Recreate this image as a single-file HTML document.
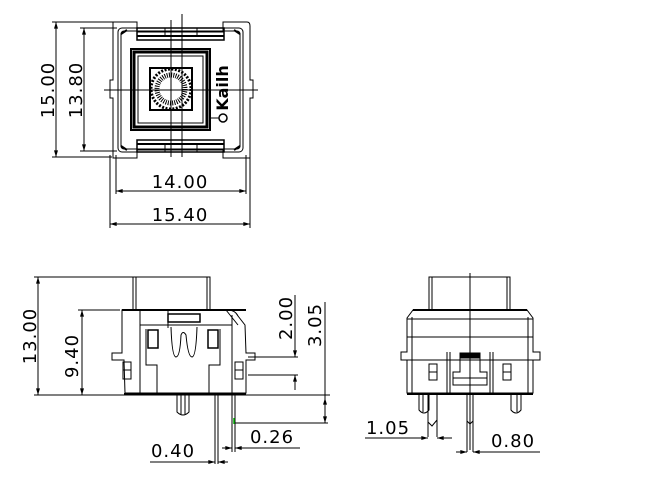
<!DOCTYPE html>
<html><head><style>
html,body{margin:0;padding:0;background:#fff;width:670px;height:485px;overflow:hidden}
svg text{font-family:"DejaVu Sans","Liberation Sans",sans-serif;font-size:18px;fill:#000;stroke:none;letter-spacing:1px}
</style></head><body>
<svg width="670" height="485" viewBox="0 0 670 485" xmlns="http://www.w3.org/2000/svg" fill="none" stroke="#000" stroke-width="1">
<defs>
<marker id="a" viewBox="0 0 10 6" refX="10" refY="3" markerWidth="7" markerHeight="4" orient="auto-start-reverse" markerUnits="userSpaceOnUse"><path d="M0 0 L10 3 L0 6 Z" fill="#000" stroke="none"/></marker>
</defs>
<!-- ================= TOP VIEW ================= -->
<line x1="52" y1="22" x2="137" y2="22"/>
<line x1="52" y1="157" x2="112" y2="157"/>
<line x1="56" y1="22" x2="56" y2="157" marker-start="url(#a)" marker-end="url(#a)"/>
<line x1="80" y1="28" x2="117" y2="28"/>
<line x1="80" y1="151" x2="117" y2="151"/>
<line x1="84" y1="28" x2="84" y2="151" marker-start="url(#a)" marker-end="url(#a)"/>
<text transform="translate(54,90) rotate(-90)" text-anchor="middle">15.00</text>
<text transform="translate(82,90) rotate(-90)" text-anchor="middle">13.80</text>
<line x1="110" y1="155" x2="110" y2="228"/>
<line x1="250" y1="155" x2="250" y2="228"/>
<line x1="116" y1="155" x2="116" y2="194"/>
<line x1="246" y1="155" x2="246" y2="194"/>
<line x1="116" y1="191" x2="246" y2="191" marker-start="url(#a)" marker-end="url(#a)"/>
<line x1="110" y1="224" x2="250" y2="224" marker-start="url(#a)" marker-end="url(#a)"/>
<text x="180" y="188" text-anchor="middle">14.00</text>
<text x="180" y="221" text-anchor="middle">15.40</text>
<!-- frame -->
<path d="M113 22 L137 22 L137 32 L223 32 L223 22 L247 22 Q250 22 250 26 L250 80 L253 80 L253 98 L250 98 L250 158 L223 158 L223 150 L137 150 L137 158 L113 158 L113 98 L110 98 L110 80 L113 80 Z"/>
<rect x="118" y="28" width="125" height="124" rx="4"/>
<rect x="121" y="31" width="119" height="118" rx="3"/>
<rect x="137" y="28" width="87" height="12" stroke-width="1.5"/>
<line x1="137" y1="36" x2="224" y2="36" stroke-width="2"/>
<rect x="137" y="140" width="87" height="12" stroke-width="1.5"/>
<line x1="137" y1="144" x2="224" y2="144" stroke-width="2"/>
<rect x="165" y="28" width="32" height="8"/>
<rect x="165" y="144" width="32" height="8"/>
<path d="M121 34 L127 30 M240 34 L234 30 M121 146 L127 150 M240 146 L234 150" stroke-width="2"/>
<rect x="131" y="49" width="79" height="81" stroke-width="2"/>
<rect x="134" y="52" width="73" height="75" stroke-width="3"/>
<rect x="138" y="56" width="65" height="67"/>
<rect x="150" y="68" width="42" height="42" stroke-width="2"/>
<circle cx="171" cy="89" r="20" stroke-width="3" stroke-dasharray="2 1.5"/>
<circle cx="171" cy="89" r="14" stroke-width="5" stroke-dasharray="1 1.2"/>
<text transform="translate(228,88) rotate(-90)" text-anchor="middle" style="font-size:16px;font-weight:bold;letter-spacing:0">Kailh</text>
<circle cx="223" cy="118" r="4" stroke-width="1.5"/>
<line x1="210" y1="118" x2="219" y2="118"/>
<line x1="171" y1="20" x2="171" y2="157"/>
<line x1="182" y1="14" x2="182" y2="157"/>
<line x1="104" y1="90" x2="258" y2="90"/>
<!-- ================= SIDE VIEW ================= -->
<line x1="34" y1="277" x2="210" y2="277"/>
<line x1="38" y1="277" x2="38" y2="395" marker-start="url(#a)" marker-end="url(#a)"/>
<text transform="translate(36,336) rotate(-90)" text-anchor="middle">13.00</text>
<line x1="78" y1="310" x2="120" y2="310"/>
<line x1="82" y1="310" x2="82" y2="395" marker-start="url(#a)" marker-end="url(#a)"/>
<text transform="translate(78,356) rotate(-90)" text-anchor="middle">9.40</text>
<line x1="34" y1="395" x2="330" y2="395"/>
<!-- cap -->
<rect x="133" y="277" width="77" height="33"/>
<line x1="136" y1="277" x2="136" y2="310"/>
<line x1="207" y1="277" x2="207" y2="310"/>
<!-- body -->
<path d="M122 310 L228 310 Q235 310 238 316 L245 325 L246 353 L255 353 L255 360 L246 360 L246 393 L125 393 L124 360 L112 360 L112 353 L122 353 Z"/>
<line x1="122" y1="310" x2="246" y2="310" stroke-width="2"/>
<line x1="124" y1="394" x2="246" y2="394" stroke-width="2"/>
<line x1="140" y1="310" x2="140" y2="393"/>
<line x1="232" y1="315" x2="232" y2="393"/>
<line x1="226" y1="310" x2="238" y2="325"/>
<line x1="140" y1="325" x2="232" y2="325"/>
<line x1="168" y1="310" x2="168" y2="328"/>
<rect x="168" y="314" width="32" height="8" stroke-width="1.5"/>
<rect x="148" y="330" width="10" height="18" stroke-width="1.5"/>
<rect x="208" y="330" width="10" height="18" stroke-width="1.5"/>
<path d="M146 329 L146 365 L157 365 L157 393 M220 329 L220 365 L209 365 L209 393"/>
<path d="M171 327 Q172 357 176 357 Q180 357 181 335 Q183 330 186 335 Q188 357 192 357 Q196 357 197 327"/>
<rect x="123" y="362" width="8" height="17"/>
<rect x="235" y="362" width="8" height="17"/>
<line x1="123" y1="370" x2="131" y2="370"/>
<line x1="235" y1="370" x2="243" y2="370"/>
<!-- stem & leads -->
<path d="M177 395 L177 412 Q183 418 189 412 L189 395"/>
<line x1="181" y1="395" x2="181" y2="414"/><line x1="185" y1="395" x2="185" y2="414"/>
<line x1="215" y1="395" x2="215" y2="464"/>
<line x1="218" y1="395" x2="218" y2="464"/>
<line x1="232" y1="395" x2="232" y2="452"/>
<line x1="235" y1="395" x2="235" y2="452"/>
<line x1="234" y1="418" x2="234" y2="424" stroke="#0a0" stroke-width="1.5"/>
<!-- 2.00 / 3.05 -->
<line x1="248" y1="357" x2="298" y2="357"/>
<line x1="248" y1="375" x2="298" y2="375"/>
<line x1="295" y1="295" x2="295" y2="357" marker-end="url(#a)"/>
<line x1="295" y1="390" x2="295" y2="375" marker-end="url(#a)"/>
<text transform="translate(292,318) rotate(-90)" text-anchor="middle">2.00</text>
<line x1="325" y1="302" x2="325" y2="423"/>
<line x1="325" y1="398" x2="325" y2="400" marker-start="url(#a)"/>
<line x1="325" y1="408" x2="325" y2="423" marker-end="url(#a)"/>
<line x1="235" y1="423" x2="328" y2="423"/>
<text transform="translate(321,325) rotate(-90)" text-anchor="middle">3.05</text>
<!-- 0.26 / 0.40 -->
<text x="272" y="443" text-anchor="middle">0.26</text>
<line x1="300" y1="448" x2="235" y2="448" marker-end="url(#a)"/>
<line x1="222" y1="448" x2="232" y2="448" marker-end="url(#a)"/>
<text x="173" y="457" text-anchor="middle">0.40</text>
<line x1="150" y1="462" x2="215" y2="462" marker-end="url(#a)"/>
<line x1="228" y1="462" x2="218" y2="462" marker-end="url(#a)"/>
<!-- ================= FRONT VIEW ================= -->
<rect x="429" y="277" width="81" height="33"/>
<line x1="432" y1="277" x2="432" y2="310"/>
<line x1="507" y1="277" x2="507" y2="310"/>
<path d="M413 310 L527 310 L533 318 L533 352 L540 352 L540 360 L533 360 L533 393 L407 393 L407 360 L401 360 L401 352 L407 352 L407 318 Z"/>
<line x1="413" y1="310" x2="527" y2="310" stroke-width="2"/>
<line x1="407" y1="319" x2="533" y2="319"/>
<line x1="407" y1="337" x2="533" y2="337"/>
<line x1="412" y1="317" x2="412" y2="393"/>
<line x1="528" y1="317" x2="528" y2="393"/>
<line x1="401" y1="360" x2="540" y2="360"/>
<line x1="407" y1="394" x2="533" y2="394" stroke-width="2"/>
<line x1="447" y1="352" x2="447" y2="393"/><line x1="450" y1="352" x2="450" y2="393"/>
<line x1="490" y1="352" x2="490" y2="393"/><line x1="493" y1="352" x2="493" y2="393"/>
<rect x="460" y="353" width="20" height="5" fill="#000"/>
<path d="M460 358 L460 372 L453 372 L453 385 L487 385 L487 372 L480 372 L480 358"/>
<line x1="453" y1="378" x2="487" y2="378"/>
<rect x="429" y="364" width="8" height="16"/><line x1="429" y1="372" x2="437" y2="372"/>
<rect x="503" y="364" width="8" height="16"/><line x1="503" y1="372" x2="511" y2="372"/>
<path d="M419 395 L419 410 Q424 416 429 410 L429 395"/>
<line x1="423" y1="395" x2="423" y2="412"/>
<path d="M511 395 L511 410 Q516 416 521 410 L521 395"/>
<line x1="517" y1="395" x2="517" y2="412"/>
<path d="M428 395 L428 437 M437 395 L437 437 M428 422 L432 426 L437 420"/>
<path d="M467 395 L467 452 M473 395 L473 452 M467 421 L470 424 L473 421"/>
<line x1="470" y1="273" x2="470" y2="450"/>
<text x="388" y="434" text-anchor="middle">1.05</text>
<line x1="365" y1="438" x2="428" y2="438" marker-end="url(#a)"/>
<line x1="452" y1="438" x2="437" y2="438" marker-end="url(#a)"/>
<text x="513" y="447" text-anchor="middle">0.80</text>
<line x1="540" y1="452" x2="473" y2="452" marker-end="url(#a)"/>
<line x1="456" y1="452" x2="467" y2="452" marker-end="url(#a)"/>
</svg>
</body></html>
